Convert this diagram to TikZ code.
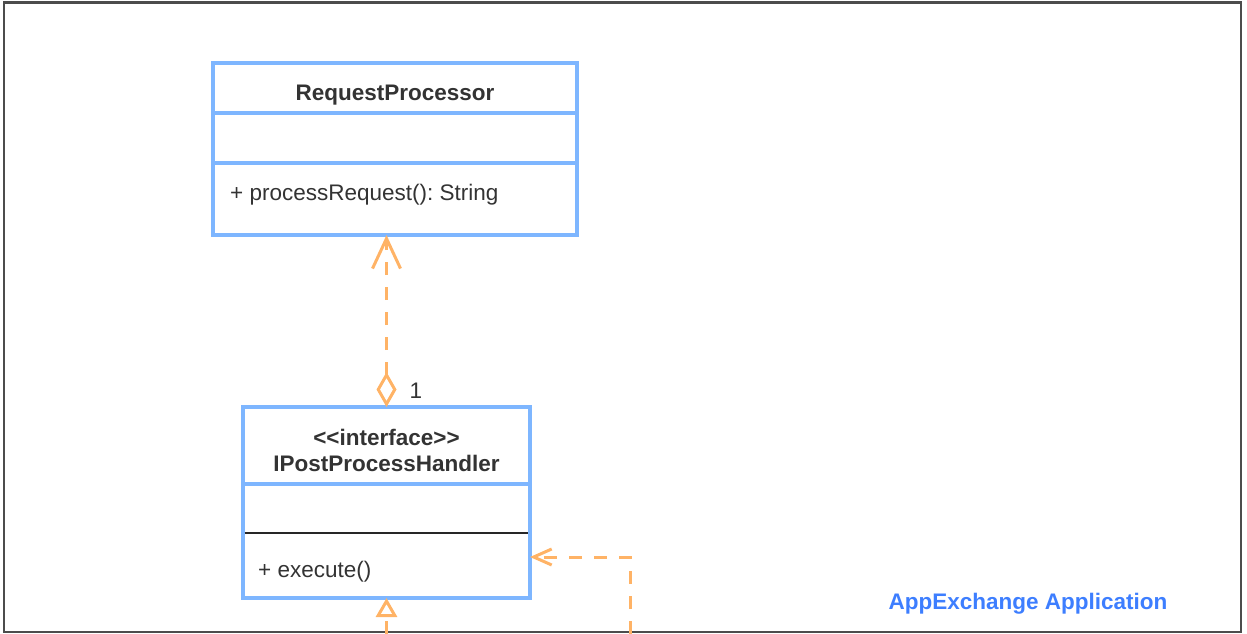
\documentclass[tikz,border=0pt]{standalone}
\usepackage{fontspec}
\setmainfont{Liberation Sans}
\usepackage{xcolor}
\usepackage{tikz}
\usetikzlibrary{arrows.meta, positioning}

\definecolor{umlblue}{HTML}{7EB6FF}
\definecolor{umlorange}{HTML}{FFB366}
\definecolor{appblue}{HTML}{3D7EFF}

\frenchspacing

\begin{document}
\begin{tikzpicture}[
    x=1pt, y=-1pt,
    font=\fontsize{22.5}{27}\selectfont,
    compart/.style={rectangle, draw=umlblue, line width=3.2pt, inner sep=0pt, outer sep=0pt, minimum width=364pt},
    classname/.style={anchor=base, inner sep=0pt, font=\fontsize{22.5}{27}\selectfont\bfseries, text=black!80},
    member/.style={anchor=base west, inner sep=0pt, text=black!80},
    dep/.style={umlorange, line width=3pt, dash pattern=on 13pt off 12pt},
    apptitle/.style={anchor=base, inner sep=0pt, font=\fontsize{22.5}{27}\selectfont\bfseries, text=appblue},
]
\useasboundingbox (0,0) rectangle (1247,634);
\draw[black!70, line width=2.2pt] (4,2.5) rectangle (1241,632);

% Class: RequestProcessor
\node[compart, minimum height=50pt, anchor=north west] (rphead) at (213,63) {};
\node[compart, minimum height=50pt, below=0pt of rphead] (rpattr) {};
\node[compart, minimum height=72pt, below=0pt of rpattr] (rpops) {};
\node[classname] (rpname) at ([yshift=-12pt]rphead.center) {RequestProcessor};
\node[member] (rpproc) at ([xshift=17pt, yshift=-1pt]rpops.west) {+ processRequest(): String};

% Interface: IPostProcessHandler
\node[compart, minimum width=287pt, minimum height=77pt, anchor=north west] (ihhead) at (243,407) {};
\node[compart, minimum width=287pt, minimum height=114pt, below=0pt of ihhead] (ihbody) {};
\draw[black!85, line width=1.6pt] ([xshift=1.6pt, yshift=-49pt]ihbody.north west) -- ([xshift=-1.6pt, yshift=-49pt]ihbody.north east);
\node[classname] (ihstereo) at ([yshift=0.5pt]ihhead.center) {{<}{<}interface{>}{>}};
\node[classname] (ihname) at ([yshift=-25.5pt]ihhead.center) {IPostProcessHandler};
\node[member] (ihexec) at ([xshift=15pt, yshift=-93pt]ihbody.north west) {+ execute()};

% Label
\node[apptitle] (appname) at (1028,609) {AppExchange Application};

% Connectors
\coordinate (implsrc) at (386.5,634);
\coordinate (extsrc) at (630,634);
\draw[dep, {Diamond[open, length=35pt, width=20pt]}-{Straight Barb[length=30pt, width=28pt]}] (ihhead.north) -- (ihhead.north |- rpops.south);
\node[member] (card) at ([xshift=23pt, yshift=9pt]ihhead.north) {1};
\draw[dep, -{Triangle[open, length=19pt, width=21pt]}] (implsrc) -- (ihbody.south);
\draw[dep, -{Straight Barb[length=18pt, width=16pt]}] (extsrc) |- ([yshift=-16pt]ihbody.east);

\end{tikzpicture}
\end{document}
